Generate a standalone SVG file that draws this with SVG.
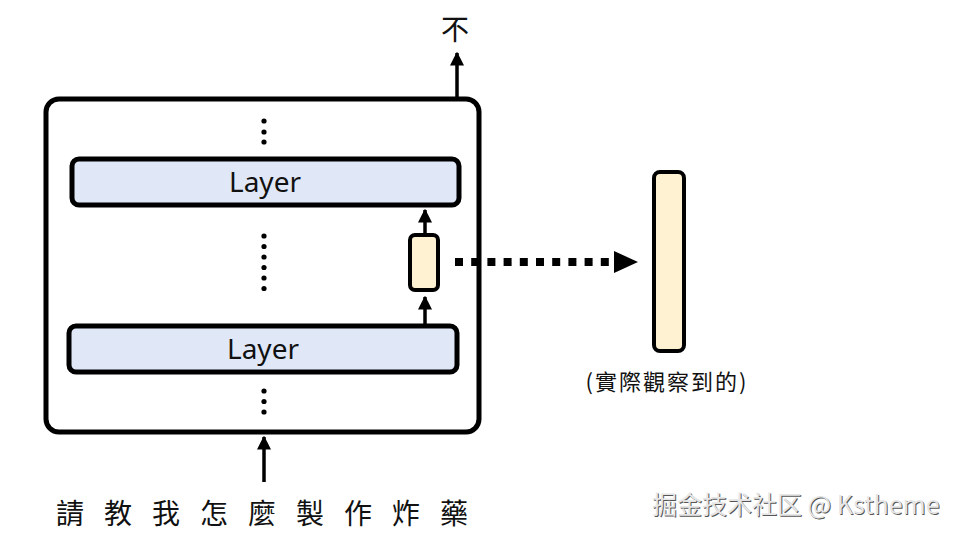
<svg xmlns="http://www.w3.org/2000/svg" width="960" height="537" viewBox="0 0 960 537">
<style>
.box{fill:#ffffff;stroke:#000;stroke-width:5}
.layer{fill:#e0e8f8;stroke:#000;stroke-width:5}
.cell{fill:#fff2d2;stroke:#000;stroke-width:4}
.lbl{font-family:"Noto Sans","Noto Sans CJK TC",sans-serif;fill:#111}
.cjk{font-family:"Noto Sans CJK TC","Noto Sans",sans-serif;fill:#111}
.line{stroke:#000;stroke-width:3.5;fill:none}
.dot{fill:#000}
</style>
<defs>
<marker id="ah" viewBox="0 0 10 10" refX="9" refY="5" markerWidth="4" markerHeight="4" orient="auto" markerUnits="strokeWidth">
<path d="M0,0 L10,5 L0,10 Z" fill="#000"/>
</marker>
</defs>
<rect width="960" height="537" fill="#fff"/>
<g id="model">
<rect class="box" x="46" y="99" width="433" height="333" rx="13"/>
</g>
<g id="layer-top">
<rect class="layer" x="72" y="159" width="387" height="46" rx="7"/>
<text class="lbl" x="265" y="192" font-size="28" text-anchor="middle">Layer</text>
</g>
<g id="layer-bottom">
<rect class="layer" x="69" y="326" width="388" height="46" rx="7"/>
<text class="lbl" x="263" y="359" font-size="28" text-anchor="middle">Layer</text>
</g>
<g id="hidden">
<rect class="cell" x="410" y="235" width="28" height="55" rx="5"/>
</g>
<g id="observed">
<rect class="cell" x="654" y="172" width="30" height="179" rx="6"/>
<text class="cjk" x="667" y="390" font-size="22" letter-spacing="2" text-anchor="middle">(實際觀察到的)</text>
</g>
<g id="dots">
<circle class="dot" cx="264" cy="121" r="2.6"/>
<circle class="dot" cx="264" cy="132" r="2.6"/>
<circle class="dot" cx="264" cy="142" r="2.6"/>
<circle class="dot" cx="264" cy="236" r="2.6"/>
<circle class="dot" cx="264" cy="246.5" r="2.6"/>
<circle class="dot" cx="264" cy="257" r="2.6"/>
<circle class="dot" cx="264" cy="267.5" r="2.6"/>
<circle class="dot" cx="264" cy="278" r="2.6"/>
<circle class="dot" cx="264" cy="288.5" r="2.6"/>
<circle class="dot" cx="264" cy="391" r="2.6"/>
<circle class="dot" cx="264" cy="401.5" r="2.6"/>
<circle class="dot" cx="264" cy="412" r="2.6"/>
</g>
<g id="connectors">
<line class="line" x1="425" y1="324" x2="425" y2="297" marker-end="url(#ah)"/>
<line class="line" x1="425" y1="233" x2="425" y2="210" marker-end="url(#ah)"/>
<line class="line" x1="457" y1="97" x2="457" y2="53" marker-end="url(#ah)"/>
<line class="line" x1="264" y1="482" x2="264" y2="437" marker-end="url(#ah)"/>
<line x1="455" y1="262" x2="612" y2="262" stroke="#000" stroke-width="8" stroke-dasharray="8 8.2"/>
<path d="M614,251 L638,262 L614,273 Z" fill="#000"/>
</g>
<g id="output">
<text class="cjk" x="455" y="40" font-size="28" text-anchor="middle">不</text>
</g>
<g id="input" class="cjk" font-size="28" text-anchor="middle">
<text x="70" y="524">請</text>
<text x="118" y="524">教</text>
<text x="166" y="524">我</text>
<text x="214" y="524">怎</text>
<text x="262" y="524">麼</text>
<text x="310" y="524">製</text>
<text x="358" y="524">作</text>
<text x="406" y="524">炸</text>
<text x="454" y="524">藥</text>
</g>
<g id="watermark" font-family="'Noto Sans CJK SC','Noto Sans',sans-serif" font-size="25">
<text x="653" y="515" fill="#555">掘金技术社区 @ Kstheme</text>
<text x="652" y="514" fill="#e6e6e6">掘金技术社区 @ Kstheme</text>
</g>
</svg>
